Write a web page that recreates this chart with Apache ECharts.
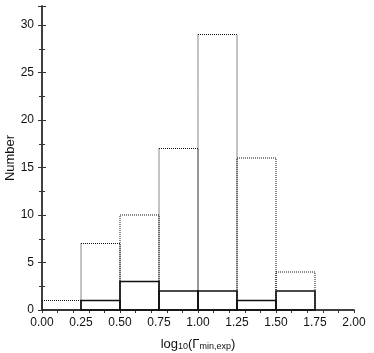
<!DOCTYPE html>
<html>
<head>
<meta charset="utf-8">
<script src="https://cdn.jsdelivr.net/npm/echarts@6/dist/echarts.min.js"></script>
<style>
  html, body { margin: 0; padding: 0; background: #fff; }
  #chart { width: 374px; height: 353px; }
</style>
</head>
<body>
<div id="chart"></div>
<script>
// bin edges of log10(Gamma_min,exp)
const binEdges = [0, 0.25, 0.5, 0.75, 1.0, 1.25, 1.5, 1.75, 2.0]
// dotted histogram (all sources)
const dottedCounts = [1, 7, 10, 17, 29, 16, 4, 0]
// solid histogram (subsample)
const solidCounts = [0, 1, 3, 2, 2, 1, 2, 0]
const yTicks = [0, 5, 10, 15, 20, 25, 30]

const toBins = counts => counts.map((c, i) => [binEdges[i], binEdges[i + 1], c])

const chart = echarts.init(document.getElementById('chart'))

const fontFamily = 'Liberation Sans'
const axisColor = '#333'

// draws each bin as an outlined rectangle
const makeRenderer = style => (params, api) => {
  const y = api.value(2)
  if (y <= 0) return null
  const p0 = api.coord([api.value(0), 0])
  const p1 = api.coord([api.value(1), y])
  return {
    type: 'rect',
    shape: { x: p0[0], y: p1[1], width: p1[0] - p0[0], height: p0[1] - p1[1] },
    style: Object.assign({ fill: 'none' }, style)
  }
}

const option = {
  animation: false,
  backgroundColor: '#fff',
  grid: { left: 42, right: 20, top: 6, bottom: 43, outerBoundsMode: 'none', containLabel: false },
  xAxis: [
    {
      type: 'value',
      position: 'bottom',
      min: 0,
      max: 2,
      interval: 0.25,
      name: '{n|log}{s|10}{n|(Γ}{s|min,exp}{n|)}',
      nameLocation: 'middle',
      nameGap: 25,
      nameMoveOverlap: false,
      nameTextStyle: {
        rich: {
          n: { fontFamily: fontFamily, fontSize: 13, color: '#111', verticalAlign: 'bottom', lineHeight: 16 },
          s: { fontFamily: fontFamily, fontSize: 9, color: '#111', verticalAlign: 'bottom', lineHeight: 11 }
        }
      },
      axisLine: { show: true, lineStyle: { color: axisColor, width: 1.5 } },
      axisTick: { show: false },
      splitLine: { show: false },
      axisLabel: {
        fontFamily: fontFamily,
        fontSize: 12,
        color: '#111',
        margin: 7,
        formatter: v => v.toFixed(2)
      }
    },
    {
      type: 'value',
      position: 'top',
      min: 0,
      max: 2,
      interval: 0.1,
      axisLine: { show: true, lineStyle: { color: axisColor, width: 1.5 } },
      axisTick: { show: true, inside: true, length: 3, lineStyle: { color: axisColor } },
      axisLabel: { show: false },
      splitLine: { show: false }
    }
  ],
  yAxis: [
    {
      type: 'value',
      position: 'left',
      min: 0,
      max: 32,
      interval: 5,
      name: 'Number',
      nameLocation: 'middle',
      nameGap: 25,
      nameMoveOverlap: false,
      nameTextStyle: { fontFamily: fontFamily, fontSize: 13, color: '#111' },
      axisLine: { show: true, lineStyle: { color: axisColor, width: 1.5 } },
      axisTick: { show: true, inside: true, length: 4, lineStyle: { color: axisColor } },
      minorTick: { show: true, splitNumber: 2, length: 3, lineStyle: { color: axisColor } },
      splitLine: { show: false },
      axisLabel: {
        fontFamily: fontFamily,
        fontSize: 12,
        color: '#111',
        margin: 8,
        formatter: v => (yTicks.indexOf(v) >= 0 ? String(v) : '')
      }
    },
    {
      type: 'value',
      position: 'right',
      min: 0,
      max: 32,
      interval: 5,
      axisLine: { show: true, lineStyle: { color: axisColor, width: 1.5 } },
      axisTick: { show: true, inside: true, length: 4, lineStyle: { color: axisColor } },
      minorTick: { show: true, splitNumber: 2, length: 3, lineStyle: { color: axisColor } },
      axisLabel: { show: false },
      splitLine: { show: false }
    }
  ],
  series: [
    {
      name: 'all',
      type: 'custom',
      xAxisIndex: 0,
      yAxisIndex: 0,
      encode: { x: [0, 1], y: 2 },
      renderItem: makeRenderer({ stroke: '#111', lineWidth: 1, lineDash: [1, 1] }),
      data: toBins(dottedCounts),
      z: 2
    },
    {
      name: 'sub',
      type: 'custom',
      xAxisIndex: 0,
      yAxisIndex: 0,
      encode: { x: [0, 1], y: 2 },
      renderItem: makeRenderer({ stroke: '#111', lineWidth: 1.6 }),
      data: toBins(solidCounts),
      z: 3
    }
  ]
}

chart.setOption(option)
</script>
</body>
</html>
